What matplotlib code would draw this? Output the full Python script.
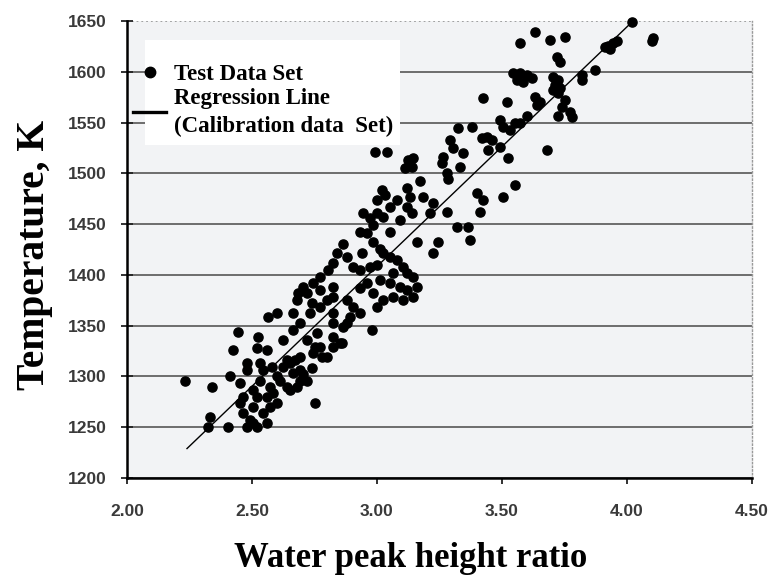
import matplotlib
matplotlib.use("Agg")
import matplotlib.pyplot as plt
from matplotlib.lines import Line2D
from matplotlib.patches import Rectangle

# ---- data ----
test_points = [
    (2.232, 1296), (2.34, 1290), (2.332, 1260), (2.324, 1250), (2.404, 1250), (2.444, 1344),
    (2.424, 1326), (2.412, 1300), (2.452, 1294), (2.524, 1339), (2.52, 1328), (2.56, 1326),
    (2.48, 1313), (2.564, 1359), (2.6, 1362), (2.624, 1336), (2.664, 1362), (2.68, 1375),
    (2.684, 1382), (2.74, 1372), (2.76, 1343), (2.752, 1274), (2.74, 1308), (2.72, 1296),
    (2.752, 1329), (2.78, 1319), (2.824, 1329), (2.852, 1333), (2.824, 1353), (2.88, 1353),
    (2.824, 1388),
    (2.464, 1264), (2.492, 1257), (2.452, 1274), (2.504, 1270), (2.544, 1264), (2.56, 1280),
    (2.532, 1296), (2.572, 1290), (2.6, 1300), (2.504, 1287), (2.48, 1306), (2.544, 1306),
    (2.532, 1313), (2.58, 1309), (2.612, 1296), (2.64, 1290), (2.624, 1309), (2.652, 1313),
    (2.664, 1303), (2.692, 1296), (2.692, 1306), (2.652, 1287), (2.6, 1274), (2.572, 1270),
    (2.504, 1254), (2.52, 1280), (2.584, 1284), (2.64, 1316), (2.672, 1316), (2.692, 1319),
    (2.68, 1290), (2.704, 1302), (2.48, 1250), (2.52, 1250), (2.464, 1280), (2.56, 1254),
    (2.72, 1382), (2.772, 1368), (2.8, 1375), (2.824, 1362), (2.824, 1339), (2.772, 1329),
    (2.744, 1323), (2.8, 1319), (2.824, 1378), (2.772, 1385), (2.732, 1362), (2.692, 1353),
    (2.664, 1346), (2.72, 1336),
    (2.84, 1422), (2.824, 1412), (2.804, 1405), (2.772, 1398), (2.744, 1392), (2.864, 1430),
    (2.704, 1388),
    (2.944, 1461), (2.972, 1456), (3.0, 1461), (3.024, 1457), (2.984, 1449), (2.932, 1442),
    (2.96, 1441), (3.052, 1442), (3.12, 1467), (3.14, 1461), (3.092, 1454), (3.16, 1432),
    (2.94, 1422), (2.984, 1432), (3.012, 1425), (3.024, 1422), (2.88, 1418), (2.904, 1408),
    (2.932, 1405), (2.972, 1408), (3.0, 1410), (3.052, 1418), (3.08, 1415), (3.104, 1408),
    (3.12, 1402), (3.144, 1398), (3.064, 1402), (3.012, 1395), (3.052, 1392), (3.092, 1388),
    (3.12, 1385), (2.96, 1392), (2.932, 1387), (2.984, 1382), (3.024, 1375), (3.0, 1368),
    (3.064, 1378), (2.88, 1375), (2.904, 1368), (2.932, 1362), (2.892, 1359), (2.864, 1349),
    (2.98, 1346), (2.86, 1333), (3.16, 1388), (3.144, 1378), (3.104, 1375),
    (2.992, 1521), (3.04, 1521), (3.02, 1484), (3.0, 1474), (3.124, 1513), (3.144, 1515),
    (3.112, 1505), (3.14, 1506), (3.032, 1479), (3.12, 1486), (3.132, 1477), (3.052, 1467),
    (3.08, 1474),
    (3.172, 1492), (3.184, 1477), (3.224, 1471), (3.212, 1461), (3.28, 1462), (3.4, 1481),
    (3.424, 1474), (3.412, 1462), (3.504, 1477), (3.552, 1489), (3.32, 1447), (3.364, 1447),
    (3.372, 1434), (3.224, 1422), (3.244, 1432),
    (3.292, 1533), (3.304, 1525), (3.344, 1520), (3.264, 1516), (3.26, 1510), (3.332, 1506),
    (3.28, 1500), (3.284, 1494), (3.324, 1545), (3.38, 1546), (3.424, 1574), (3.52, 1570),
    (3.492, 1553), (3.504, 1546), (3.532, 1543), (3.552, 1550), (3.44, 1536), (3.42, 1535),
    (3.46, 1533), (3.444, 1523), (3.492, 1526), (3.524, 1515), (3.544, 1599), (3.56, 1592),
    (3.632, 1639), (3.692, 1631), (3.752, 1634), (3.572, 1628), (3.72, 1615), (3.732, 1610),
    (4.02, 1649), (4.104, 1633), (4.1, 1630), (3.924, 1625), (3.944, 1628), (3.96, 1630),
    (3.912, 1624), (3.932, 1622), (3.872, 1602), (3.82, 1597), (3.82, 1592), (3.572, 1599),
    (3.6, 1597), (3.62, 1594), (3.584, 1590), (3.704, 1595), (3.724, 1592), (3.712, 1587),
    (3.732, 1584), (3.704, 1582), (3.724, 1579), (3.632, 1575), (3.652, 1570), (3.64, 1567),
    (3.752, 1572), (3.74, 1565), (3.724, 1556), (3.772, 1560), (3.78, 1555), (3.6, 1556),
    (3.572, 1550), (3.68, 1523),
]
test_ratio = [p[0] for p in test_points]
test_temp = [p[1] for p in test_points]

regression_ratio = [2.24, 4.02]
regression_temp = [1229, 1649]

x_ticks = [2.0, 2.5, 3.0, 3.5, 4.0, 4.5]
x_tick_labels = ["2.00", "2.50", "3.00", "3.50", "4.00", "4.50"]
y_ticks = [1200, 1250, 1300, 1350, 1400, 1450, 1500, 1550, 1600, 1650]
y_tick_labels = ["1200", "1250", "1300", "1350", "1400", "1450", "1500", "1550", "1600", "1650"]

legend_labels = ["Test Data Set", "Regression Line\n(Calibration data  Set)"]
x_label = "Water peak height ratio"
y_label = "Temperature, K"

# ---- figure ----
fig = plt.figure(figsize=(7.71, 5.77), dpi=100)
fig.patch.set_facecolor("white")
ax = fig.add_axes([127 / 771, 1 - 478 / 577, 625 / 771, 457 / 577])
ax.set_facecolor("#f2f3f5")

ax.set_xlim(2.0, 4.5)
ax.set_ylim(1200, 1650)

ax.plot(test_ratio, test_temp, "o", color="black", ms=6.6, mec="black", zorder=3, clip_on=False)
ax.plot(regression_ratio, regression_temp, color="black", lw=1.0, zorder=4)

ax.set_yticks(y_ticks)
ax.set_yticklabels(y_tick_labels)
ax.set_xticks(x_ticks)
ax.set_xticklabels(x_tick_labels)

tick_font = dict(family="Liberation Sans", weight="bold", size=12.5)
for lab in ax.get_xticklabels() + ax.get_yticklabels():
    lab.set_fontproperties(tick_font)
    lab.set_color("#3a3a3a")

ax.tick_params(axis="y", direction="inout", length=9, width=1.3, pad=10, color="#222222")
ax.tick_params(axis="x", direction="out", length=4, width=1.3, pad=15, color="#222222")

ax.yaxis.grid(True, color="#626262", lw=1.3, zorder=1)
ax.set_axisbelow(True)
gl = ax.get_ygridlines()
gl[-1].set_linestyle(":")
gl[-1].set_color("#9a9a9a")

for side in ["left", "bottom"]:
    ax.spines[side].set_color("black")
    ax.spines[side].set_linewidth(1.8)
ax.spines["top"].set_visible(False)
ax.spines["right"].set_linestyle(":")
ax.spines["right"].set_color("#9a9a9a")
ax.spines["right"].set_linewidth(1.0)

ax.set_xlabel(x_label, family="Liberation Serif", weight="bold", size=25)
ax.xaxis.set_label_coords(0.453, -0.139)
ax.set_ylabel(y_label, family="Liberation Serif", weight="bold", size=28.5)
ax.yaxis.set_label_coords(-0.118, 0.488)

# white legend panel
ax.add_patch(Rectangle((0.029, 0.729), 0.408, 0.230, transform=ax.transAxes,
                       facecolor="white", edgecolor="none", zorder=4.5))

handles = [
    Line2D([], [], marker="o", ls="none", color="black", ms=7.5),
    Line2D([], [], color="black", lw=2.4),
]
leg = ax.legend(handles, legend_labels, loc="upper left", bbox_to_anchor=(0.0096, 0.906),
                prop=dict(family="Liberation Serif", weight="bold", size=16.5),
                frameon=False, handlelength=1.45, handletextpad=0.35, labelspacing=0.14,
                borderpad=0.0, borderaxespad=0.0)
leg.get_texts()[1].set_linespacing(1.4)
leg.set_zorder(5)

fig.savefig("out.png", dpi=100, facecolor="white")
